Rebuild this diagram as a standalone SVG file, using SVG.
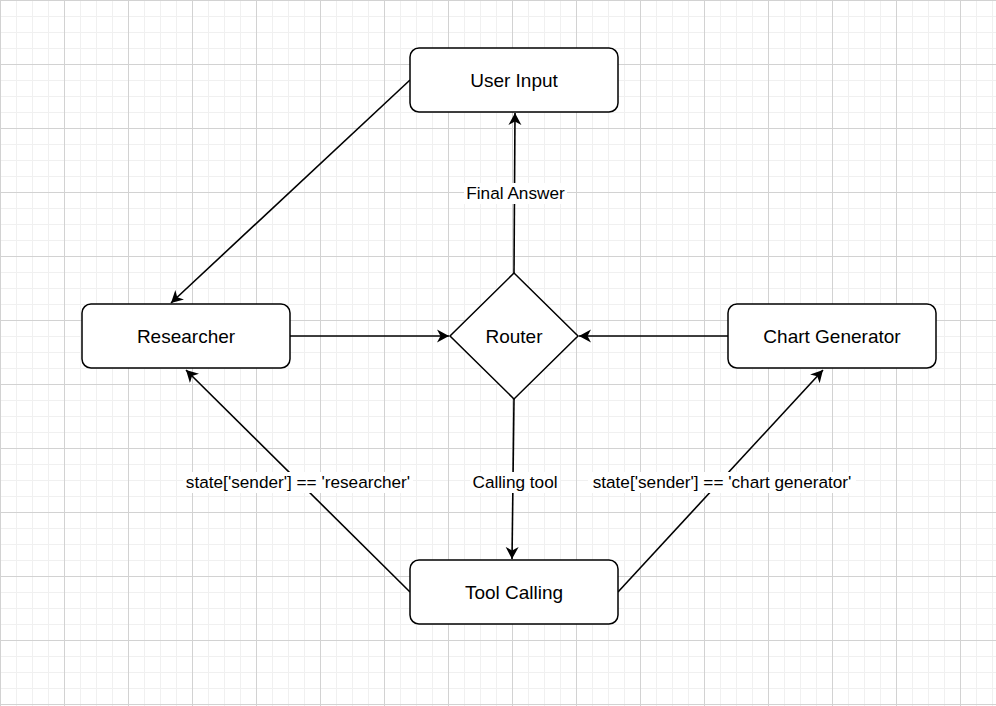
<svg xmlns="http://www.w3.org/2000/svg" width="996" height="706" viewBox="0 0 996 706">
  <defs>
    <pattern id="grid" width="64" height="64" patternUnits="userSpaceOnUse">
      <rect width="64" height="64" fill="#ffffff"/>
      <g fill="#f0f0f0">
        <rect x="16" y="0" width="1" height="64"/>
        <rect x="32" y="0" width="1" height="64"/>
        <rect x="48" y="0" width="1" height="64"/>
        <rect x="0" y="16" width="64" height="1"/>
        <rect x="0" y="32" width="64" height="1"/>
        <rect x="0" y="48" width="64" height="1"/>
      </g>
      <g fill="#d2d2d2">
        <rect x="0" y="0" width="1" height="64"/>
        <rect x="0" y="0" width="64" height="1"/>
      </g>
    </pattern>
    <marker id="arrow" markerWidth="14" markerHeight="14" refX="12" refY="7" orient="auto" markerUnits="userSpaceOnUse">
      <path d="M0,0.5 L12,7 L0,13.5 L3.5,7 Z" fill="#000"/>
    </marker>
    <style>
      .node { fill: #ffffff; stroke: #000000; stroke-width: 1.5; }
      .ntext { font-family: "Liberation Sans", Arial, sans-serif; font-size: 19px; fill: #000; text-anchor: middle; }
      .edge { fill: none; stroke: #000; stroke-width: 1.6; marker-end: url(#arrow); }
      .ltext { font-family: "Liberation Sans", Arial, sans-serif; font-size: 17.2px; fill: #000; text-anchor: middle; }
      .lbg { fill: #ffffff; }
    </style>
  </defs>
  <rect x="0" y="0" width="996" height="706" fill="url(#grid)"/>

  <g id="connectors">
    <path class="edge" d="M410,80 L171,303"/>
    <path class="edge" d="M290,336 L449,336"/>
    <path class="edge" d="M728,336 L579,336"/>
    <path class="edge" d="M514,273 L515,113"/>
    <path class="edge" d="M514,399 L512,559"/>
    <path class="edge" d="M410,592 L186,370"/>
    <path class="edge" d="M618,592 L823,370"/>
    <g id="edge-labels">
      <rect class="lbg" x="464" y="183" width="103" height="21"/>
      <text class="ltext" x="515.5" y="199">Final Answer</text>
      <rect class="lbg" x="470" y="472" width="90" height="21"/>
      <text class="ltext" x="515" y="488">Calling tool</text>
      <rect class="lbg" x="183" y="472" width="230" height="21"/>
      <text class="ltext" x="298" y="488">state['sender'] == 'researcher'</text>
      <rect class="lbg" x="588" y="472" width="268" height="21"/>
      <text class="ltext" x="722" y="488">state['sender'] == 'chart generator'</text>
    </g>
  </g>

  <g id="user-input">
    <rect class="node" x="410" y="48" width="208" height="64" rx="9"/>
    <text class="ntext" x="514" y="86.5">User Input</text>
  </g>
  <g id="researcher">
    <rect class="node" x="82" y="304" width="208" height="64" rx="9"/>
    <text class="ntext" x="186" y="342.5">Researcher</text>
  </g>
  <g id="router">
    <path class="node" d="M514,273 L578,336 L514,399 L450,336 Z"/>
    <text class="ntext" x="514" y="342.5">Router</text>
  </g>
  <g id="chart-generator">
    <rect class="node" x="728" y="304" width="208" height="64" rx="9"/>
    <text class="ntext" x="832" y="342.5">Chart Generator</text>
  </g>
  <g id="tool-calling">
    <rect class="node" x="410" y="560" width="208" height="64" rx="9"/>
    <text class="ntext" x="514" y="598.5">Tool Calling</text>
  </g>
</svg>
